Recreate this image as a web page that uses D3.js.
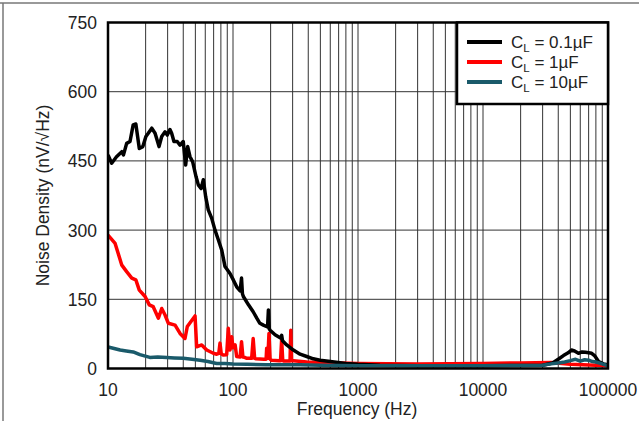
<!DOCTYPE html>
<html lang="en">
<head>
  <meta charset="UTF-8">
  <title>Noise Density vs Frequency</title>
  <script src="https://d3js.org/d3.v7.min.js"></script>
  <style>
    body { margin: 0; padding: 0; background: #fff; }
    svg { display: block; font-family: "Liberation Sans", Arial, sans-serif; }
    .tick-label { font-size: 17.5px; fill: #222; }
    .grid line { stroke: #333; stroke-width: 1; }
  </style>
</head>
<body>
<svg id="chart" width="639" height="421"></svg>
<script>
  // C_L = 0.1uF
  const blackFreq = [10, 10.7, 11.7, 12.9, 13.3, 14.1, 15, 15.9, 16.7, 17.8, 19, 20.1, 21, 22.4, 23.8, 25.6, 26.9, 28.6, 29.8, 31.3, 32.3, 33.7, 35.8, 37.7, 40, 41.8, 43.4, 45.3, 47.6, 50.6, 52.8, 55.5, 57.9, 60.5, 63.4, 67.5, 71.8, 76.3, 81.2, 86.3, 94.6, 100.6, 107, 114, 117, 119, 121, 133, 145, 155, 164, 175, 189, 192, 195, 198, 217, 240, 245, 249, 269, 304, 344, 389, 439, 497, 600, 800, 1000, 1500, 3000, 10000, 30000, 36000, 40000, 44000, 48000, 51000, 54000, 58000, 62000, 66000, 70000, 74000, 78000, 84000, 92000, 100000];
  const blackVal  = [463, 445, 459, 470, 463, 488, 492, 528, 530, 477, 481, 503, 510, 521, 510, 481, 503, 513, 506, 518, 510, 492, 492, 484, 492, 441, 481, 459, 448, 416, 398, 390, 409, 372, 344, 326, 300, 279, 257, 221, 206, 192, 177, 168, 196, 162, 156, 138, 123, 109, 98, 94, 90, 127, 86, 83, 73, 66, 72, 60, 51, 40, 31, 26, 21, 18, 15, 11, 9, 7, 6, 6, 7, 12, 20, 28, 34, 40, 38, 33, 36, 35, 34, 33, 28, 15, 10, 8];

  // C_L = 1uF
  const redFreq = [10, 11.4, 12.9, 14.1, 15.5, 16.7, 17.8, 19.8, 21.4, 23, 25.3, 26.9, 28.6, 30.4, 34.4, 37.7, 41.3, 43.1, 49.7, 51.2, 56.2, 61.6, 69.6, 74.1, 77, 78.7, 80.5, 83.6, 89, 91.7, 94.6, 97.6, 100, 104, 107, 114, 117, 120, 124, 129, 141, 145, 149, 153, 177, 184, 186, 190, 194, 198, 204, 233, 240, 245, 250, 256, 286, 290, 294, 304, 389, 1000, 3000, 10000, 20000, 35000, 50000, 100000];
  const redVal  = [289, 271, 224, 210, 196, 192, 170, 156, 138, 134, 109, 130, 116, 98, 94, 76, 65, 91, 114, 47, 51, 40, 33, 31, 33, 55, 32, 29, 30, 87, 40, 69, 45, 51, 26, 25, 58, 25, 24, 22, 22, 65, 22, 21, 20, 20, 44, 22, 76, 20, 18, 17, 17, 62, 17, 16, 16, 83, 17, 17, 14, 11, 10, 11, 12, 13, 9, 6];

  // C_L = 10uF
  const tealFreq = [10, 11, 12.5, 14, 15.9, 18, 21.6, 25, 29.5, 34, 40, 47, 54.5, 63, 74, 86, 100, 130, 184, 250, 344, 500, 1000, 3000, 10000, 30000, 35000, 40000, 45000, 50000, 55000, 60000, 65000, 70000, 75000, 80000, 90000, 100000];
  const tealVal  = [47, 44, 40, 38, 36, 30, 24, 25, 24, 23, 22, 20, 18, 15, 11, 11, 10, 9, 8, 8, 8, 7, 6, 6, 6, 7, 10, 12, 14, 17, 20, 16, 19, 18, 15, 14, 10, 6];

  const xTicks = [10, 100, 1000, 10000, 100000];
  const yTicks = [0, 150, 300, 450, 600, 750];
  const legendLabels = ["0.1\u00B5F", "1\u00B5F", "10\u00B5F"];

  const svg = d3.select("#chart");
  const W = 639, H = 421;
  const mLeft = 108, mRight = 608, mTop = 22.5, mBottom = 368.5;

  svg.append("rect").attr("width", W).attr("height", H).attr("fill", "#fff");

  // outer frame fragments (top & left)
  svg.append("line").attr("x1", 0).attr("x2", W).attr("y1", 3).attr("y2", 3)
    .attr("stroke", "#777").attr("stroke-width", 1.5);
  svg.append("line").attr("x1", 3).attr("x2", 3).attr("y1", 3).attr("y2", H)
    .attr("stroke", "#777").attr("stroke-width", 1.5);

  const x = d3.scaleLog().domain([10, 100000]).range([mLeft, mRight]);
  const y = d3.scaleLinear().domain([0, 750]).range([mBottom, mTop]);

  // grid
  const minor = [];
  for (let d = 10; d < 100000; d *= 10)
    for (let k = 1; k <= 9; k++) minor.push(d * k);
  const grid = svg.append("g").attr("class", "grid");
  grid.selectAll(".vx").data(minor.filter(v => v > 10)).enter().append("line")
    .attr("x1", d => x(d)).attr("x2", d => x(d)).attr("y1", mTop).attr("y2", mBottom);
  grid.selectAll(".hy").data(yTicks.slice(1, -1)).enter().append("line")
    .attr("x1", mLeft).attr("x2", mRight).attr("y1", d => y(d)).attr("y2", d => y(d));

  // curves
  const line = d3.line().x(d => x(d[0])).y(d => y(d[1]));
  const series = [
    { f: redFreq, v: redVal, color: "#ff0000" },
    { f: blackFreq, v: blackVal, color: "#000000" },
    { f: tealFreq, v: tealVal, color: "#1a5a6a" }
  ];
  svg.append("clipPath").attr("id", "clip").append("rect")
    .attr("x", mLeft).attr("y", mTop).attr("width", mRight - mLeft).attr("height", mBottom - mTop);
  series.forEach(s => {
    svg.append("path")
      .datum(d3.zip(s.f, s.v))
      .attr("clip-path", "url(#clip)")
      .attr("fill", "none")
      .attr("stroke", s.color)
      .attr("stroke-width", 3.5)
      .attr("stroke-linejoin", "round")
      .attr("d", line);
  });

  // frame
  svg.append("rect").attr("x", mLeft).attr("y", mTop)
    .attr("width", mRight - mLeft).attr("height", mBottom - mTop)
    .attr("fill", "none").attr("stroke", "#000").attr("stroke-width", 2.5);

  // tick labels
  svg.selectAll(".ylab").data(yTicks).enter().append("text")
    .attr("class", "tick-label")
    .attr("x", 97).attr("y", d => y(d) + 6.5)
    .attr("text-anchor", "end")
    .text(d => d);
  svg.selectAll(".xlab").data(xTicks).enter().append("text")
    .attr("class", "tick-label")
    .attr("x", d => x(d)).attr("y", 396)
    .attr("text-anchor", "middle")
    .text(d => d);

  // axis titles
  svg.append("text").attr("x", 357).attr("y", 415)
    .attr("text-anchor", "middle").style("font-size", "17.5px").attr("fill", "#222")
    .text("Frequency (Hz)");
  svg.append("text")
    .attr("transform", `translate(49,${(mTop + mBottom) / 2}) rotate(-90)`)
    .attr("text-anchor", "middle").style("font-size", "17.5px").attr("fill", "#222")
    .text("Noise Density (nV/\u221AHz)");

  // legend
  const lg = svg.append("g");
  lg.append("rect").attr("x", 457).attr("y", mTop).attr("width", mRight - 457).attr("height", 81.5)
    .attr("fill", "#fff").attr("stroke", "#000").attr("stroke-width", 2.5);
  const legColors = ["#000000", "#ff0000", "#1a5a6a"];
  legendLabels.forEach((lab, i) => {
    const ly = 42 + i * 20;
    lg.append("line").attr("x1", 467).attr("x2", 502).attr("y1", ly).attr("y2", ly)
      .attr("stroke", legColors[i]).attr("stroke-width", 4);
    const t = lg.append("text").attr("x", 511).attr("y", ly + 6)
      .style("font-size", "17px").attr("fill", "#222");
    t.append("tspan").text("C");
    t.append("tspan").attr("dy", 4).style("font-size", "11.5px").text("L");
    t.append("tspan").attr("dy", -4).text(" = " + lab);
  });
</script>
</body>
</html>
